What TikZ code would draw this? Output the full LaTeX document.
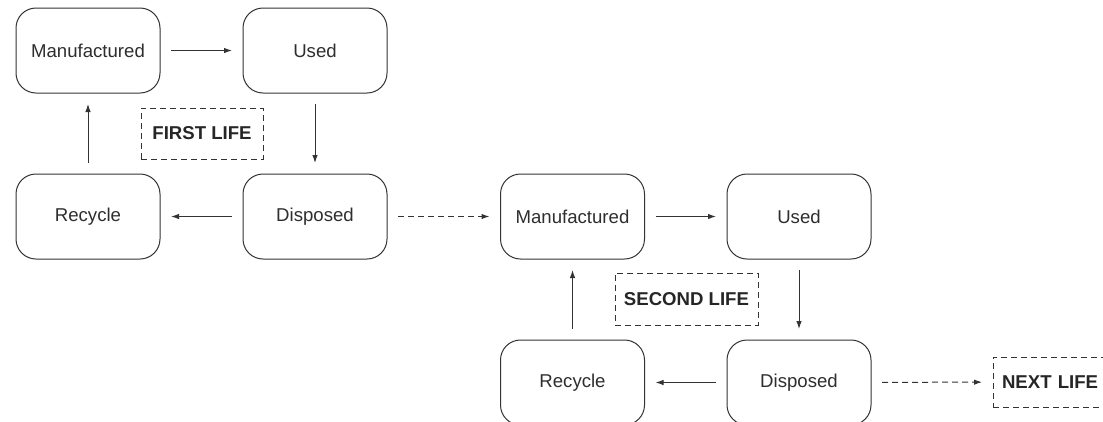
\documentclass[tikz,border=0pt]{standalone}
\usepackage{fontspec}
\setmainfont{Liberation Sans}
\usetikzlibrary{arrows.meta}
\definecolor{ln}{HTML}{333333}
\definecolor{tx}{HTML}{2E2E2E}
\tikzset{
  stage/.style={draw=ln, line width=1pt, rounded corners=20pt, minimum width=144pt, minimum height=85pt, inner sep=0pt, text=tx, font=\fontsize{18.6}{22}\selectfont},
  lifebox/.style={draw=ln, line width=1pt, dash pattern=on 6pt off 4pt, inner sep=0pt, text=black!85, font=\fontsize{18.6}{22}\selectfont\bfseries},
  flow/.style={draw=ln, line width=1pt, -{Latex[length=8pt,width=5.5pt]}, shorten <=10.5pt, shorten >=10.5pt},
  dflow/.style={flow, dash pattern=on 6pt off 4pt}
}
\begin{document}
\begin{tikzpicture}[x=1pt,y=-1pt]
\useasboundingbox (0,0) rectangle (1103,421);
\clip (0,0) rectangle (1103,421);
\fill[white] (0,0) rectangle (1103,421);
% first life
\node[stage] (m1) at (88,50.5) {Manufactured};
\node[stage] (u1) at (315,50.5) {Used};
\node[stage] (r1) at (88,216.5) {Recycle};
\node[stage] (d1) at (315,216.5) {Disposed};
\node[lifebox, minimum width=122pt, minimum height=51pt] (l1) at (202,133.5) {FIRST LIFE};
% second life
\node[stage] (m2) at (572.5,216.5) {Manufactured};
\node[stage] (u2) at (799,216.5) {Used};
\node[stage] (r2) at (572.5,382.5) {Recycle};
\node[stage] (d2) at (799,382.5) {Disposed};
\node[lifebox, minimum width=143pt, minimum height=52pt] (l2) at (686.5,299) {SECOND LIFE};
% next life
\node[lifebox, minimum width=122pt, minimum height=50pt, text width=104pt, align=left] (l3) at (1054,382) {NEXT LIFE};
% connectors
\draw[flow] (m1) -- (u1);
\draw[flow] (u1) -- (d1);
\draw[flow] (d1) -- (r1);
\draw[flow] (r1) -- (m1);
\draw[dflow] (d1) -- (m2);
\draw[flow] (m2) -- (u2);
\draw[flow] (u2) -- (d2);
\draw[flow] (d2) -- (r2);
\draw[flow] (r2) -- (m2);
\draw[dflow] (d2) -- (l3);
\end{tikzpicture}
\end{document}
